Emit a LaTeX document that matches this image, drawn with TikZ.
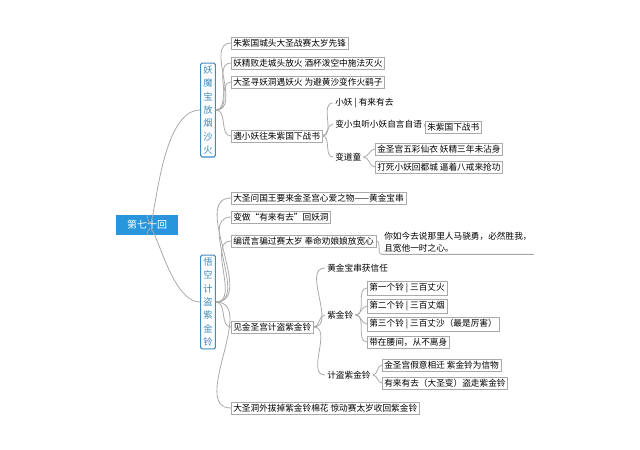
\documentclass[tikz,border=0pt]{standalone}
\usepackage{fontspec}
\setmainfont{Noto Sans CJK SC}
\usetikzlibrary{positioning}
\definecolor{rootblue}{RGB}{40,150,220}
\definecolor{edgegray}{RGB}{170,170,170}
\definecolor{topicblue}{RGB}{60,140,190}
\tikzset{
  leaf/.style={draw=edgegray, fill=white, inner sep=1.5pt, anchor=west, font=\fontsize{6.5}{7}\selectfont},
  plain/.style={inner sep=1.5pt, anchor=west, font=\fontsize{6.5}{7}\selectfont},
  topic/.style={draw=topicblue, line width=0.8pt, rounded corners=1pt, fill=white, text=topicblue, align=center, inner sep=2pt, font=\fontsize{7}{10}\selectfont},
  link/.style={draw=edgegray, line width=0.6pt}
}
\begin{document}
\begin{tikzpicture}[x=0.75pt,y=0.75pt,yscale=-1,xscale=1]
\useasboundingbox (0,0) rectangle (640,450);

% Root
\node [fill=rootblue, text=white, minimum width=46pt, minimum height=15pt, font=\fontsize{7.5}{8}\selectfont] (root) at (147,225) {第七十回};

% Main topics
\node [topic] (fire) at (208,110) {妖\\魔\\宝\\放\\烟\\沙\\火};
\node [topic] (bell) at (208,302) {悟\\空\\计\\盗\\紫\\金\\铃};
\draw [link] (root.north) to[out=80,in=180] (fire.west);
\draw [link] (root.south) to[out=-80,in=180] (bell.west);

% First branch
\node [leaf] (f1) at (231,43) {朱紫国城头大圣战赛太岁先锋};
\node [leaf] (f2) at (231,63) {妖精败走城头放火 酒杯泼空中施法灭火};
\node [leaf] (f3) at (231,82) {大圣寻妖洞遇妖火 为避黄沙变作火鹞子};
\node [leaf] (f4) at (231,136) {遇小妖往朱紫国下战书};
\foreach \n in {f1,f2,f3,f4}
  \draw [link] (fire.east) to[out=0,in=180] (\n.west);

\node [plain] (s1) at (333,103) {小妖 | 有来有去};
\node [plain] (s2) at (333,124) {变小虫听小妖自言自语};
\node [plain] (s3) at (333,157) {变道童};
\foreach \n in {s1,s2,s3}
  \draw [link] (f4.east) to[out=0,in=180] (\n.west);
\node [leaf] (s21) at (425,127) {朱紫国下战书};
\draw [link] (s2.east) to[out=0,in=180] (s21.west);
\node [leaf] (s31) at (375,149) {金圣宫五彩仙衣 妖精三年未沾身};
\node [leaf] (s32) at (375,167) {打死小妖回都城 逼着八戒来抢功};
\draw [link] (s3.east) to[out=0,in=180] (s31.west);
\draw [link] (s3.east) to[out=0,in=180] (s32.west);

% Second branch
\node [leaf] (b1) at (231,198) {大圣问国王要来金圣宫心爱之物——黄金宝串};
\node [leaf] (b2) at (231,217) {变做“有来有去”回妖洞};
\node [leaf] (b3) at (231,241) {编谎言骗过赛太岁 奉命劝娘娘放宽心};
\node [leaf] (b4) at (231,327) {见金圣宫计盗紫金铃};
\node [leaf] (b5) at (231,408) {大圣洞外拔掉紫金铃棉花 惊动赛太岁收回紫金铃};
\foreach \n in {b1,b2,b3,b4,b5}
  \draw [link] (bell.east) to[out=0,in=180] (\n.west);

\node [plain, align=left, font=\fontsize{6.5}{9}\selectfont] (b31) at (382,242) {你如今去说那里人马骁勇，必然胜我，\\且宽他一时之心。};
\draw [link] (b3.east) to[out=0,in=180] (b31.south west) -- (b31.south east);

\node [plain] (c1) at (325,268) {黄金宝串获信任};
\node [plain] (c2) at (325,315) {紫金铃};
\node [plain] (c3) at (325,375) {计盗紫金铃};
\foreach \n in {c1,c2,c3}
  \draw [link] (b4.east) to[out=0,in=180] (\n.west);

\node [leaf] (d1) at (367,288) {第一个铃 | 三百丈火};
\node [leaf] (d2) at (367,306) {第二个铃 | 三百丈烟};
\node [leaf] (d3) at (367,324) {第三个铃 | 三百丈沙（最是厉害）};
\node [leaf] (d4) at (367,342) {带在腰间，从不离身};
\foreach \n in {d1,d2,d3,d4}
  \draw [link] (c2.east) to[out=0,in=180] (\n.west);

\node [leaf] (e1) at (382,365) {金圣宫假意相迁 紫金铃为信物};
\node [leaf] (e2) at (382,383) {有来有去（大圣变）盗走紫金铃};
\draw [link] (c3.east) to[out=0,in=180] (e1.west);
\draw [link] (c3.east) to[out=0,in=180] (e2.west);
\end{tikzpicture}
\end{document}
